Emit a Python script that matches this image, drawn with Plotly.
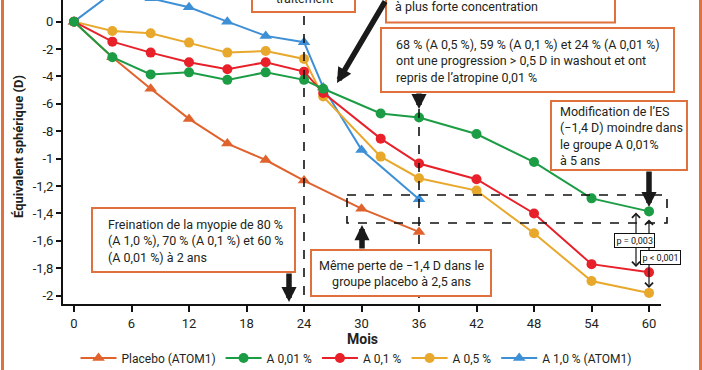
import plotly.graph_objects as go

# ---- data ----
months_placebo = [0, 4, 8, 12, 16, 20, 24, 30, 36]
placebo = [0, -0.26, -0.49, -0.71, -0.89, -1.01, -1.16, -1.365, -1.535]

months_atom2 = [0, 4, 8, 12, 16, 20, 24, 26, 32, 36, 42, 48, 54, 60]
a001 = [0, -0.26, -0.385, -0.37, -0.425, -0.37, -0.425, -0.49, -0.67, -0.70, -0.82, -1.025, -1.29, -1.385]
a01 = [0, -0.146, -0.226, -0.296, -0.348, -0.296, -0.365, -0.52, -0.854, -1.036, -1.15, -1.40, -1.77, -1.83]
a05 = [0, -0.068, -0.085, -0.153, -0.226, -0.214, -0.272, -0.547, -0.985, -1.143, -1.233, -1.545, -1.893, -1.98]

months_a10 = [0, 4, 8, 12, 16, 20, 24, 26, 30, 36]
a10 = [0, 0.21, 0.17, 0.105, 0.0, -0.104, -0.15, -0.48, -0.936, -1.296]

x_ticks = list(range(0, 61, 6))
y_tickvals = [0, -0.2, -0.4, -0.6, -0.8, -1.0, -1.2, -1.4, -1.6, -1.8, -2.0]
y_ticktext = ["0", "-2", "-4", "-6", "-8", "-1", "-1,2", "-1,4", "-1,6", "-1,8", "-2"]

names = ["Placebo (ATOM1)", "A 0,01 %", "A 0,1 %", "A 0,5 %", "A 1,0 % (ATOM1)"]
colors = ["#e0622c", "#1c9c45", "#e8202a", "#e8a82c", "#3d8fd6"]

# ---- layout geometry (pixels of the 702x370 image) ----
W, H = 702, 370
L, R, T, B = 63, 661, 0, 304
FONT = "Roboto"
BORDER = "#e0703c"


def px(x):
    return (x - L) / (R - L)


def py(y):
    return (B - y) / (B - T)


fig = go.Figure()

series = [
    (4, months_a10, a10, "triangle-up"),
    (0, months_placebo, placebo, "triangle-up"),
    (3, months_atom2, a05, "circle"),
    (2, months_atom2, a01, "circle"),
    (1, months_atom2, a001, "circle"),
]
for idx, xs, ys, sym in series:
    fig.add_trace(go.Scatter(
        x=xs, y=ys, name=names[idx], mode="lines+markers",
        line=dict(color=colors[idx], width=2),
        marker=dict(color=colors[idx], size=10 if sym == "circle" else 11, symbol=sym),
        legendrank=idx + 1,
    ))

shapes = []
# orange frame lines
shapes.append(dict(type="line", xref="paper", yref="paper", x0=px(2.5), x1=px(2.5), y0=py(-10), y1=py(380),
                   line=dict(color=BORDER, width=3)))
shapes.append(dict(type="line", xref="paper", yref="paper", x0=px(700.5), x1=px(700.5), y0=py(-10), y1=py(380),
                   line=dict(color=BORDER, width=3)))
# dashed lines
dash = dict(color="#111", width=1.6, dash="dash")
shapes.append(dict(type="line", xref="paper", yref="paper", x0=px(304), x1=px(304), y0=py(16), y1=py(304), line=dash))
shapes.append(dict(type="line", xref="paper", yref="paper", x0=px(419), x1=px(419), y0=py(109), y1=py(304), line=dash))
shapes.append(dict(type="rect", xref="paper", yref="paper", x0=px(347), x1=px(667), y0=py(195), y1=py(223), line=dash))

# text boxes (orange border)
boxes = [
    (252, -40, 355, 12),
    (386, -40, 615, 22.5),
    (381, 28, 674, 92),
    (551, 101, 687, 170),
    (92, 208, 295, 272),
    (311, 250, 491, 296),
]
for x0, y0, x1, y1 in boxes:
    shapes.append(dict(type="rect", xref="paper", yref="paper", x0=px(x0), x1=px(x1), y0=py(y1), y1=py(y0),
                       line=dict(color=BORDER, width=2), fillcolor="white", layer="above"))

ann = []
tf = dict(family=FONT, size=12.5, color="#231f20")


def text(x, y, s, xanchor="left", size=None, align="left"):
    f = dict(tf)
    if size:
        f["size"] = size
    ann.append(dict(xref="paper", yref="paper", x=px(x), y=py(y), text=s, showarrow=False,
                    xanchor=xanchor, yanchor="middle", font=f, align=align))


text(304, -1, "traitement", xanchor="center")
text(393, 7, "à plus forte concentration")
text(394, 61, "68 % (A 0,5 %), 59 % (A 0,1 %) et 24 % (A 0,01 %)<br>ont une progression &gt; 0,5 D in washout et ont<br>repris de l’atropine 0,01 %")
text(558, 136, "Modification de l’ES<br>(−1,4 D) moindre dans<br>le groupe A 0,01%<br>à 5 ans")
text(106, 241, "Freination de la myopie de 80 %<br>(A 1,0 %), 70 % (A 0,1 %) et 60 %<br>(A 0,01 %) à 2 ans")
text(401, 273, "Même perte de −1,4 D dans le<br>groupe placebo à 2,5 ans", xanchor="center", align="center")

# thick arrows: (tail_x, tail_y, tip_x, tip_y)
thick = [
    (386, -4, 337, 83),
    (419, 92, 419, 109),
    (649, 170, 649, 207),
    (289, 272, 289, 302),
    (362, 250, 362, 225),
]
for tx, ty, hx, hy in thick:
    ann.append(dict(xref="paper", yref="paper", x=px(hx), y=py(hy), ax=tx - hx, ay=ty - hy,
                    text="", showarrow=True, arrowhead=2, arrowsize=0.55, arrowwidth=5.5,
                    arrowcolor="#1a1a1a", standoff=0, startstandoff=0))

# thin double arrows
thin = [
    (636, 211, 636, 267),
    (649, 218, 649, 288),
]
for tx, ty, hx, hy in thin:
    ann.append(dict(xref="paper", yref="paper", x=px(hx), y=py(hy), ax=tx - hx, ay=ty - hy,
                    text="", showarrow=True, arrowhead=4, arrowsize=1.3, arrowwidth=1.2,
                    arrowside="end+start", arrowcolor="#1a1a1a", standoff=0, startstandoff=0))

# p-value labels
for cx, cy, s in [(634, 240.5, "p = 0,003"), (660, 257.5, "p &lt; 0,001")]:
    ann.append(dict(xref="paper", yref="paper", x=px(cx), y=py(cy), text=s, showarrow=False,
                    xanchor="center", yanchor="middle", font=dict(family=FONT, size=9, color="#111"),
                    bgcolor="white", bordercolor="#111", borderwidth=1, borderpad=1.5))

# axis titles
ann.append(dict(xref="paper", yref="paper", x=px(362), y=py(339), text="<b>Mois</b>", showarrow=False,
                xanchor="center", yanchor="middle", font=dict(family=FONT, size=14, color="#231f20")))
ann.append(dict(xref="paper", yref="paper", x=px(18), y=py(147), text="<b>Équivalent sphérique (D)</b>",
                showarrow=False, textangle=-90, xanchor="center", yanchor="middle",
                font=dict(family=FONT, size=13, color="#231f20")))

fig.update_layout(
    width=W, height=H,
    margin=dict(l=L, r=W - R, t=T, b=H - B, autoexpand=False),
    paper_bgcolor="white", plot_bgcolor="white",
    font=dict(family=FONT, size=13, color="#231f20"),
    showlegend=True,
    legend=dict(orientation="h", x=0.49, y=py(358), xanchor="center", yanchor="middle",
                font=dict(family=FONT, size=12), tracegroupgap=0, itemwidth=36,
                bgcolor="rgba(0,0,0,0)"),
    xaxis=dict(range=[-1.15, 61.25], tickvals=x_ticks, showline=True, linecolor="#111", linewidth=2,
               ticks="outside", ticklen=6, tickwidth=1.5, tickcolor="#111", showgrid=False, zeroline=False,
               tickfont=dict(family=FONT, size=13), automargin=False),
    yaxis=dict(range=[-2.061, 0.158], tickvals=y_tickvals, ticktext=y_ticktext, showline=True,
               linecolor="#111", linewidth=2, ticks="outside", ticklen=5, tickwidth=1.5, tickcolor="#111",
               showgrid=False, zeroline=False, tickfont=dict(family=FONT, size=13), automargin=False),
    shapes=shapes,
    annotations=ann,
)

fig.write_html("out.html", config={"displayModeBar": False},
               post_script="document.body.style.margin='0';document.body.style.overflow='hidden';")
